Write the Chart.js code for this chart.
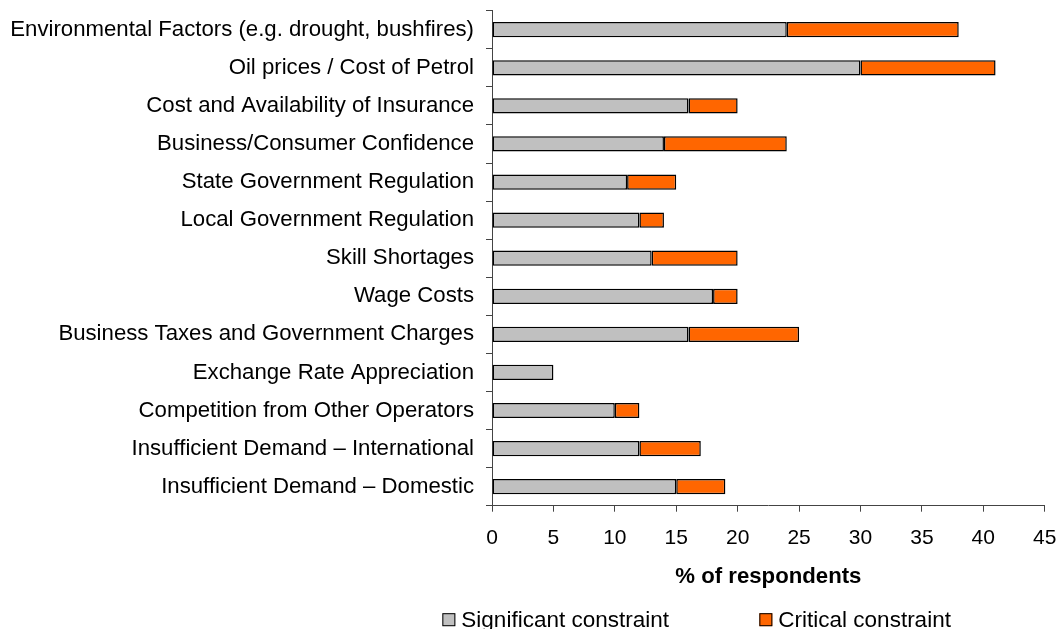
<!DOCTYPE html>
<html>
<head>
<meta charset="utf-8">
<script src="https://cdn.jsdelivr.net/npm/chart.js@4"></script>
<style>
  body { margin: 0; background: #fff; }
  #wrap { width: 1062px; height: 629px; }
</style>
</head>
<body>
<div id="wrap"><canvas id="chart"></canvas></div>
<script>
const categories = [
  'Environmental Factors (e.g. drought, bushfires)',
  'Oil prices / Cost of Petrol',
  'Cost and Availability of Insurance',
  'Business/Consumer Confidence',
  'State Government Regulation',
  'Local Government Regulation',
  'Skill Shortages',
  'Wage Costs',
  'Business Taxes and Government Charges',
  'Exchange Rate Appreciation',
  'Competition from Other Operators',
  'Insufficient Demand \u2013 International',
  'Insufficient Demand \u2013 Domestic',
];

const significantValues = [24, 30, 16, 14, 11, 12, 13, 18, 16, 5, 10, 12, 15];
const criticalValues = [14, 11, 4, 10, 4, 2, 7, 2, 9, 0, 2, 5, 4];

const xTickValues = [0, 5, 10, 15, 20, 25, 30, 35, 40, 45];
const seriesNames = ['Significant constraint', 'Critical constraint'];
const axisTitle = '% of respondents';

const FONT = "'Liberation Sans', Arial, sans-serif";
const AXIS_COLOR = '#444';

// legend is drawn by hand so the two entries can sit far apart like the original
const spacedLegend = {
  id: 'spacedLegend',
  afterDraw(chart) {
    const { ctx, chartArea } = chart;
    const xScale = chart.scales.x;
    const mid = (chartArea.left + chartArea.right) / 2;
    const y = xScale.bottom + 29;
    const starts = [mid - 326, mid - 9];
    ctx.save();
    ctx.font = `22.5px ${FONT}`;
    ctx.textBaseline = 'middle';
    ctx.textAlign = 'left';
    chart.data.datasets.forEach((dataset, i) => {
      const x = starts[i];
      ctx.fillStyle = dataset.backgroundColor;
      ctx.fillRect(x, y - 6.5, 13, 13);
      ctx.lineWidth = 1;
      ctx.strokeStyle = '#000';
      ctx.strokeRect(x + 0.5, y - 6, 12, 12);
      ctx.fillStyle = '#000';
      ctx.fillText(dataset.label, x + 19, y + 1);
    });
    ctx.restore();
  },
};

const chart = new Chart(document.getElementById('chart'), {
  type: 'bar',
  data: {
    labels: categories,
    datasets: [
      {
        label: seriesNames[0],
        data: significantValues,
        backgroundColor: '#C0C0C0',
        borderColor: '#000',
        borderWidth: 1.5,
        borderSkipped: false,
        barPercentage: 0.4,
        categoryPercentage: 1,
      },
      {
        label: seriesNames[1],
        data: criticalValues,
        backgroundColor: '#FF6600',
        borderColor: '#000',
        borderWidth: 1.5,
        borderSkipped: false,
        barPercentage: 0.4,
        categoryPercentage: 1,
      },
    ],
  },
  options: {
    indexAxis: 'y',
    responsive: true,
    maintainAspectRatio: false,
    animation: false,
    layout: { padding: { left: 0, right: 17.3, top: 10.7, bottom: 38.3 } },
    plugins: {
      legend: { display: false },
      tooltip: { enabled: false },
    },
    scales: {
      x: {
        stacked: true,
        min: 0,
        max: 45,
        afterBuildTicks: (scale) => {
          scale.ticks = xTickValues.map((value) => ({ value }));
        },
        afterFit: (scale) => {
          scale.height = 85;
          scale.paddingLeft = 0;
          scale.paddingRight = 0;
        },
        grid: { drawOnChartArea: false, drawTicks: true, tickLength: 6, color: AXIS_COLOR },
        border: { display: true, color: AXIS_COLOR, width: 1 },
        ticks: { color: '#000', padding: 14, maxRotation: 0, font: { family: FONT, size: 21 } },
        title: {
          display: true,
          text: axisTitle,
          color: '#000',
          padding: { top: 0, bottom: 0 },
          font: { family: FONT, size: 22.2, weight: 'bold' },
        },
      },
      y: {
        stacked: true,
        afterFit: (scale) => {
          scale.width = 492;
          scale.paddingTop = 0;
          scale.paddingBottom = 0;
        },
        grid: { drawOnChartArea: false, drawTicks: true, tickLength: 6, color: AXIS_COLOR, offset: true },
        border: { display: true, color: AXIS_COLOR, width: 1 },
        ticks: { color: '#000', padding: 12, autoSkip: false, font: { family: FONT, size: 22.2 } },
      },
    },
  },
  plugins: [spacedLegend],
});
</script>
</body>
</html>
